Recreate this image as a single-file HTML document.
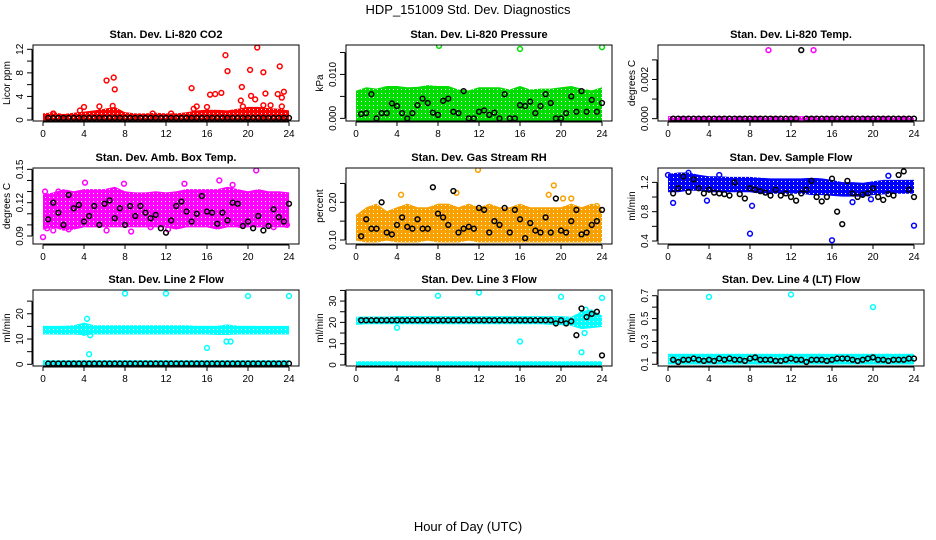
<!DOCTYPE html>
<html><head><meta charset="utf-8">
<style>
body{margin:0;background:#fff;}
svg{display:block;font-family:"Liberation Sans",Arial,sans-serif;}
</style></head>
<body>
<svg id="chart" width="936" height="540" viewBox="0 0 936 540">
<defs id="defs"></defs>
<text x="468" y="14" text-anchor="middle" font-size="13">HDP_151009  Std. Dev. Diagnostics</text>
<text x="468" y="531" text-anchor="middle" font-size="13">Hour of Day (UTC)</text>
</svg>
<script>
const hours = [0,1,2,3,4,5,6,7,8,9,10,11,12,13,14,15,16,17,18,19,20,21,22,23,24];
const xTicks = [0,4,8,12,16,20,24];

const co2Lo = [0.2,0.2,0.2,0.2,0.2,0.2,0.2,0.2,0.2,0.2,0.2,0.2,0.2,0.2,0.2,0.2,0.2,0.2,0.2,0.2,0.2,0.2,0.2,0.2,0.2];
const co2Hi = [0.7,0.9,0.6,0.8,1,1.2,1.5,1.8,0.9,0.7,0.7,0.8,0.7,0.7,0.9,1.2,1.3,1.3,1.2,1.5,1.8,1.8,1.6,1.5,1.2];
const co2Out = [[6.2,6.7],[6.9,7.2],[7,5.2],[17.8,11],[18,8.3],[20.9,12.3],[20.2,8.5],[21.5,8.1],[23.1,9.1],[14.5,5.4],[19.4,5.6],[16.3,4.3],[16.8,4.4],[17.4,4.6],[20.3,4.1],[20.7,3.5],[21.7,4.5],[22.9,4.4],[23.5,4.8],[23.3,3.8],[19.3,3.3],[4,2.2],[3.6,1.6],[5.5,2.3],[6.8,2.4],[15,2.3],[16,2.2],[14.7,1.9],[21.5,2.5],[22.2,2.5],[23.3,2.3],[1,1.1],[10.7,1.1],[12.5,1.1],[19.5,2.3]];
const co2Black = [0.35,0.35,0.35,0.35,0.35,0.35,0.35,0.35,0.35,0.35,0.35,0.35,0.35,0.35,0.35,0.35,0.35,0.35,0.35,0.35,0.35,0.35,0.35,0.35,0.35,0.35,0.35,0.35,0.35,0.35,0.35,0.35,0.35,0.35,0.35,0.35,0.35,0.35,0.35,0.35,0.35,0.35,0.35,0.35,0.35,0.35,0.35,0.35];
const co2Ticks = [0,2,4,6,8,10,12];
const co2Labels = ["0","","4","","8","","12"];

const presLo = [0,0,0,0,0,0,0,0,0,0,0,0,0,0,0,0,0,0,0,0,0,0,0,0,0];
const presHi = [0.0057,0.0065,0.0062,0.0068,0.0068,0.0065,0.0066,0.007,0.0068,0.0068,0.006,0.0058,0.0065,0.0065,0.0065,0.006,0.0068,0.006,0.0062,0.0062,0.0065,0.0068,0.0062,0.0058,0.0065];
const presOut = [[8.1,0.0165],[16,0.0158],[24,0.0162]];
const presBlack = [0.001,0.0012,0.0055,0,0.0012,0.0012,0.0034,0.0028,0.0012,0,0.0012,0.003,0.0045,0.0035,0.0013,0.0008,0.004,0.0045,0.0015,0.0012,0.0062,0,0,0.0015,0.0018,0.0008,0.0013,0,0.0055,0,0,0.003,0.0028,0.0038,0.0012,0.0028,0.0055,0.0035,0,0,0.0012,0.005,0.0015,0.0062,0.0015,0.0042,0.0015,0.0035];
const presTicks = [0,0.005,0.010,0.015];
const presLabels = ["0.000","","0.010",""];

const tempLo = [0,0,0,0,0,0,0,0,0,0,0,0,0,0,0,0,0,0,0,0,0,0,0,0,0];
const tempHi = [0,0,0,0,0,0,0,0,0,0,0,0,0,0,0,0,0,0,0,0,0,0,0,0,0];
const tempOut = [[9.8,0.0035],[14.2,0.0035]];
const tempBlack = [0,0,0,0,0,0,0,0,0,0,0,0,0,0,0,0,0,0,0,0,0,0,0,0,0,0.0035,0,0,0,0,0,0,0,0,0,0,0,0,0,0,0,0,0,0,0,0,0,0];
const tempTicks = [0,0.001,0.002,0.003];
const tempLabels = ["0.000","","0.002",""];

const ambLo = [0.098,0.1,0.097,0.098,0.1,0.1,0.1,0.1,0.1,0.1,0.1,0.1,0.1,0.098,0.1,0.1,0.1,0.098,0.1,0.1,0.1,0.1,0.1,0.1,0.1];
const ambHi = [0.125,0.127,0.13,0.128,0.13,0.13,0.13,0.132,0.128,0.127,0.127,0.128,0.127,0.128,0.13,0.13,0.13,0.13,0.132,0.13,0.128,0.13,0.128,0.128,0.127];
const ambOut = [[0,0.089],[0.2,0.13],[1.5,0.13],[4.1,0.138],[7.9,0.137],[13.8,0.137],[17.2,0.14],[18.5,0.136],[20.8,0.149],[16.5,0.078],[18.2,0.078],[6.2,0.095],[2.5,0.096],[1,0.095],[0.4,0.097],[10.5,0.098],[19.2,0.1],[22.5,0.098],[23.8,0.1],[8.6,0.094],[12.2,0.096]];
const ambBlack = [0.105,0.12,0.111,0.1,0.127,0.115,0.118,0.103,0.108,0.117,0.1,0.119,0.122,0.106,0.115,0.1,0.117,0.108,0.117,0.111,0.106,0.109,0.097,0.093,0.104,0.117,0.121,0.112,0.103,0.11,0.126,0.112,0.111,0.101,0.111,0.104,0.12,0.119,0.099,0.103,0.097,0.108,0.095,0.099,0.114,0.107,0.103,0.119];
const ambTicks = [0.09,0.10,0.11,0.12,0.13,0.14,0.15];
const ambLabels = ["0.09","","","0.12","","","0.15"];

const rhLo = [0.105,0.1,0.1,0.105,0.1,0.1,0.1,0.105,0.1,0.1,0.1,0.105,0.1,0.1,0.1,0.1,0.1,0.1,0.1,0.1,0.1,0.1,0.1,0.1,0.1];
const rhHi = [0.16,0.18,0.19,0.17,0.18,0.19,0.18,0.18,0.19,0.19,0.18,0.19,0.18,0.19,0.18,0.18,0.19,0.18,0.18,0.18,0.18,0.19,0.18,0.19,0.18];
const rhOut = [[11.9,0.286],[19.3,0.245],[4.4,0.22],[9.8,0.225],[18.8,0.22],[20.2,0.21],[21,0.21],[23.5,0.19]];
const rhBlack = [0.11,0.155,0.13,0.13,0.2,0.12,0.115,0.14,0.16,0.135,0.13,0.155,0.13,0.13,0.24,0.17,0.16,0.14,0.23,0.12,0.13,0.135,0.13,0.185,0.18,0.12,0.15,0.14,0.185,0.12,0.18,0.155,0.105,0.145,0.125,0.12,0.16,0.12,0.21,0.125,0.12,0.15,0.18,0.115,0.12,0.14,0.15,0.18];
const rhTicks = [0.10,0.15,0.20,0.25];
const rhLabels = ["0.10","","0.20",""];

const sfLo = [1.1,1.1,1.12,1.12,1.1,1.1,1.1,1.1,1.1,1.08,1.08,1.08,1.08,1.08,1.06,1.06,1.05,1.04,1.04,1.04,1.06,1.07,1.08,1.08,1.08];
const sfHi = [1.28,1.3,1.3,1.27,1.25,1.25,1.24,1.24,1.24,1.23,1.22,1.22,1.22,1.22,1.23,1.22,1.2,1.17,1.17,1.16,1.18,1.2,1.2,1.2,1.2];
const sfOut = [[0.5,0.92],[3.8,0.95],[8,0.5],[8.2,0.88],[16,0.41],[24,0.61],[18,0.93],[19.8,0.97],[0,1.3],[2,1.33],[5,1.3],[21.5,1.29]];
const sfBlack = [1.05,1.12,1.28,1.07,1.24,1.12,1.05,1.1,1.06,1.05,1.04,1.02,1.2,1.04,0.98,1.12,1.1,1.08,1.06,1.02,1.1,1.02,1.05,1.0,0.95,1.05,1.1,1.22,1.0,0.94,1.0,1.25,0.8,0.63,1.22,1.05,1.0,1.03,1.05,1.12,1.0,0.96,1.04,1.02,1.3,1.35,1.1,1.0];
const sfTicks = [0.4,0.6,0.8,1.0,1.2];
const sfLabels = ["0.4","","0.8","","1.2"];

const l2Lo = [12.8,12.8,12.7,12.8,12.5,12.8,12.8,12.8,12.8,12.8,12.8,12.8,12.8,12.8,12.8,12.8,12.8,12.6,12.6,12.8,12.8,12.8,12.8,12.8,12.8];
const l2Hi = [14.3,14.2,14.3,14.5,15.5,14.5,14.5,14.5,14.5,14.5,14.5,14.5,14.5,14.5,14.5,14.3,14.3,14.3,14.8,14.3,14.3,14.2,14.2,14.2,14.2];
const l2ZeroLo = [0.2,0.2,0.2,0.2,0.2,0.2,0.2,0.2,0.2,0.2,0.2,0.2,0.2,0.2,0.2,0.2,0.2,0.2,0.2,0.2,0.2,0.2,0.2,0.2,0.2];
const l2ZeroHi = [0.6,0.6,0.6,0.6,0.6,0.6,0.6,0.6,0.6,0.6,0.6,0.6,0.6,0.6,0.6,0.6,0.6,0.6,0.6,0.6,0.6,0.6,0.6,0.6,0.6];
const l2Out = [[8,28],[12,28],[20,27],[24,27],[16,6.5],[17.9,9],[18.3,9],[4.5,4],[4.3,18],[4.6,11.5],[4,12.5]];
const l2Black = [0.3,0.3,0.3,0.3,0.3,0.3,0.3,0.3,0.3,0.3,0.3,0.3,0.3,0.3,0.3,0.3,0.3,0.3,0.3,0.3,0.3,0.3,0.3,0.3,0.3,0.3,0.3,0.3,0.3,0.3,0.3,0.3,0.3,0.3,0.3,0.3,0.3,0.3,0.3,0.3,0.3,0.3,0.3,0.3,0.3,0.3,0.3,0.3];
const l2Ticks = [0,5,10,15,20,25];
const l2Labels = ["0","","10","","20",""];

const l3Lo = [20,20.3,20.3,20.3,20.3,20.3,20.3,20.3,20.3,20.3,20.3,20.3,20.3,20.3,20.3,20.3,20.3,20.3,20.3,20,19.8,19.5,18,18.5,19];
const l3Hi = [21.5,21.6,21.6,21.6,21.8,21.8,21.8,21.8,21.8,21.8,21.8,21.8,21.8,21.8,21.8,21.8,21.8,21.8,21.8,21.8,21.8,21.5,24,25,22];
const l3ZeroLo = [0,0,0,0,0,0,0,0,0,0,0,0,0,0,0,0,0,0,0,0,0,0,0,0,0];
const l3ZeroHi = [0.6,0.6,0.6,0.6,0.6,0.6,0.6,0.6,0.6,0.6,0.6,0.6,0.6,0.6,0.6,0.6,0.6,0.6,0.6,0.6,0.6,0.6,0.6,0.6,0.6];
const l3Out = [[8,32.5],[12,34],[20,32],[24,31.5],[16,11],[4,17.5],[22,6],[22.3,15],[22.1,24],[22.4,26]];
const l3Black = [21,21,21,21,21,21,21,21,21,21,21,21,21,21,21,21,21,21,21,21,21,21,21,21,21,21,21,21,21,21,21,21,21,21,21,21,21,21,19.5,21,19.5,20.5,14,26.5,22.5,24,25,4.5];
const l3Ticks = [0,5,10,15,20,25,30,35];
const l3Labels = ["0","","10","","20","","30",""];

const l4Lo = [0.12,0.12,0.12,0.12,0.12,0.12,0.12,0.12,0.12,0.12,0.12,0.12,0.12,0.12,0.12,0.12,0.12,0.12,0.12,0.12,0.12,0.12,0.12,0.12,0.12];
const l4Hi = [0.17,0.17,0.17,0.17,0.17,0.17,0.17,0.17,0.17,0.17,0.17,0.17,0.17,0.17,0.17,0.17,0.17,0.17,0.17,0.17,0.17,0.17,0.17,0.17,0.17];
const l4Out = [[4,0.69],[12,0.71],[20,0.6]];
const l4Black = [0.14,0.12,0.14,0.14,0.15,0.14,0.13,0.14,0.13,0.15,0.14,0.15,0.14,0.14,0.13,0.15,0.16,0.14,0.14,0.14,0.13,0.13,0.14,0.15,0.14,0.14,0.12,0.14,0.14,0.14,0.13,0.14,0.15,0.15,0.15,0.14,0.13,0.14,0.15,0.16,0.14,0.14,0.13,0.14,0.14,0.14,0.15,0.15];
const l4Ticks = [0.1,0.2,0.3,0.4,0.5,0.6,0.7];
const l4Labels = ["0.1","","0.3","","0.5","","0.7"];

const panels = [
 {key:'co2',title:'Stan. Dev. Li-820 CO2',ylab:'Licor ppm',col:0,row:0,ylim:[-0.17,12.73],color:'#ff0000',bands:[[co2Lo,co2Hi]],out:co2Out,blk:co2Black,ticks:co2Ticks,labels:co2Labels},
 {key:'pressure',title:'Stan. Dev. Li-820 Pressure',ylab:'kPa',col:1,row:0,ylim:[-0.0006,0.0167],color:'#00dd00',bands:[[presLo,presHi]],out:presOut,blk:presBlack,ticks:presTicks,labels:presLabels},
 {key:'temp',title:'Stan. Dev. Li-820 Temp.',ylab:'degrees C',col:2,row:0,ylim:[-0.00012,0.00376],color:'#ff00ff',bands:[[tempLo,tempHi]],out:tempOut,blk:tempBlack,ticks:tempTicks,labels:tempLabels},
 {key:'ambient',title:'Stan. Dev. Amb. Box Temp.',ylab:'degrees C',col:0,row:1,ylim:[0.0828,0.1512],color:'#ff00ff',bands:[[ambLo,ambHi]],out:ambOut,blk:ambBlack,ticks:ambTicks,labels:ambLabels},
 {key:'rh',title:'Stan. Dev. Gas Stream RH',ylab:'percent',col:1,row:1,ylim:[0.0894,0.291],color:'#f7a000',bands:[[rhLo,rhHi]],out:rhOut,blk:rhBlack,ticks:rhTicks,labels:rhLabels},
 {key:'sample-flow',title:'Stan. Dev. Sample Flow',ylab:'ml/min',col:2,row:1,ylim:[0.359,1.396],color:'#0000ff',bands:[[sfLo,sfHi]],out:sfOut,blk:sfBlack,ticks:sfTicks,labels:sfLabels},
 {key:'line2',title:'Stan. Dev. Line 2 Flow',ylab:'ml/min',col:0,row:2,ylim:[-0.67,29.4],color:'#00ffff',bands:[[l2Lo,l2Hi],[l2ZeroLo,l2ZeroHi]],out:l2Out,blk:l2Black,ticks:l2Ticks,labels:l2Labels},
 {key:'line3',title:'Stan. Dev. Line 3 Flow',ylab:'ml/min',col:1,row:2,ylim:[-0.47,35.2],color:'#00ffff',bands:[[l3Lo,l3Hi],[l3ZeroLo,l3ZeroHi]],out:l3Out,blk:l3Black,ticks:l3Ticks,labels:l3Labels},
 {key:'line4',title:'Stan. Dev. Line 4 (LT) Flow',ylab:'ml/min',col:2,row:2,ylim:[0.085,0.75],color:'#00ffff',bands:[[l4Lo,l4Hi]],out:l4Out,blk:l4Black,ticks:l4Ticks,labels:l4Labels}
];

const NS='http://www.w3.org/2000/svg';
const svg=document.getElementById('chart');
const defs=document.getElementById('defs');
const colX=[33,346,658], rowY=[45,168,290], W=266, H=76;
function mk(tag,attrs,parent){const e=document.createElementNS(NS,tag);for(const k in attrs)e.setAttribute(k,attrs[k]);(parent||svg).appendChild(e);return e;}

panels.forEach(p=>{
  const L=colX[p.col], T=rowY[p.row];
  const xs=t=>L+10+t/24*246;
  const ys=v=>T+H-(v-p.ylim[0])/(p.ylim[1]-p.ylim[0])*H;
  const pat=mk('pattern',{id:'pat-'+p.key,width:4,height:4,patternUnits:'userSpaceOnUse'},defs);
  mk('rect',{width:4,height:4,fill:p.color},pat);
  mk('rect',{x:1,y:1,width:1,height:1,fill:'#fff'},pat);
  const g=mk('g',{});
  
  
  const clip=mk('clipPath',{id:'clip-'+p.key},defs);
  mk('rect',{x:L,y:T,width:W,height:H},clip);
  const marks=mk('g',{'clip-path':'url(#clip-'+p.key+')'},g);
  p.bands.forEach((b,bi)=>{
    const lo=b[0],hi=b[1];
    let d='';
    hours.forEach((h,i)=>{d+=(i?'L':'M')+xs(h).toFixed(1)+','+(ys(hi[i])-2.5).toFixed(1);});
    for(let i=hours.length-1;i>=0;i--){d+='L'+xs(hours[i]).toFixed(1)+','+(ys(lo[i])+2.5).toFixed(1);}
    d+='Z';
    const band=mk('path',{d:d,fill:'url(#pat-'+p.key+')'},marks);
    
    
  });
  p.out.forEach(o=>{
    const c=mk('circle',{cx:xs(o[0]),cy:ys(o[1]),r:2.4,fill:'none',stroke:p.color,'stroke-width':1.5},marks);
    
    
  });
  p.blk.forEach((v,i)=>{
    const c=mk('circle',{cx:xs(0.5*(i+1)),cy:ys(v),r:2.4,fill:'none',stroke:'#000','stroke-width':1.5},marks);
    
    
  });
  const box=mk('rect',{x:L,y:T,width:W,height:H,fill:'none',stroke:'#000','stroke-width':1},g);
  
  
  const xa=mk('g',{},g);
  
  
  mk('line',{x1:xs(0),x2:xs(24),y1:T+H+1,y2:T+H+1,stroke:'#000'},xa);
  xTicks.forEach(t=>{
    mk('line',{x1:xs(t),x2:xs(t),y1:T+H+1,y2:T+H+5,stroke:'#000'},xa);
    const tx=mk('text',{x:xs(t),y:T+H+16,'text-anchor':'middle','font-size':10},xa);
    tx.textContent=t;
  });
  const ya=mk('g',{},g);
  
  
  const t0=p.ticks[0], t1=p.ticks[p.ticks.length-1];
  mk('line',{x1:L-1,x2:L-1,y1:ys(t0),y2:ys(t1),stroke:'#000'},ya);
  p.ticks.forEach((t,i)=>{
    mk('line',{x1:L-6,x2:L-1,y1:ys(t),y2:ys(t),stroke:'#000'},ya);
    if(p.labels[i]){
      const tx=mk('text',{x:L-10,y:ys(t),'text-anchor':'middle','font-size':10,transform:'rotate(-90 '+(L-10)+' '+ys(t)+')'},ya);
      tx.textContent=p.labels[i];
    }
  });
  const yl=mk('text',{x:L-23,y:T+H/2,'text-anchor':'middle','font-size':10,transform:'rotate(-90 '+(L-23)+' '+(T+H/2)+')'},g);
  yl.textContent=p.ylab;
  
  
  const ti=mk('text',{x:L+W/2,y:T-7,'text-anchor':'middle','font-size':11,'font-weight':'bold'},g);
  ti.textContent=p.title;
  
  
});
</script>
</body></html>
